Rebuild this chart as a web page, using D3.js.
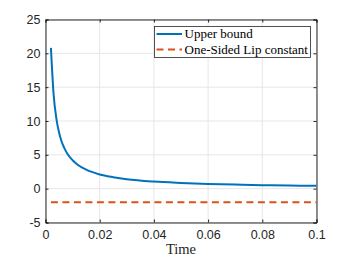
<!DOCTYPE html>
<html>
<head>
<meta charset="utf-8">
<script src="https://cdn.jsdelivr.net/npm/d3@7"></script>
<style>
  body { margin: 0; background: #fff; }
  .tick text { font-family: "Liberation Sans", Arial, sans-serif; font-size: 12.5px; fill: #262626; }
</style>
</head>
<body>
<svg width="350" height="263"></svg>
<script>
// values
const time = [0.002, 0.003, 0.004, 0.005, 0.006, 0.007, 0.008, 0.01, 0.012, 0.015, 0.02, 0.025, 0.03, 0.04, 0.05, 0.06, 0.07, 0.08, 0.09, 0.1];
const upperBound = [20.8, 13.9, 10.4, 8.3, 6.9, 5.95, 5.2, 4.2, 3.5, 2.8, 2.1, 1.7, 1.4, 1.05, 0.85, 0.7, 0.6, 0.52, 0.46, 0.42];
const lipTime = [0.002, 0.1];
const lipConst = [-2, -2];
const xTicks = [0, 0.02, 0.04, 0.06, 0.08, 0.1];
const yTicks = [-5, 0, 5, 10, 15, 20, 25];
const legendNames = ["Upper bound", "One-Sided Lip constant"];

const blue = "#0072BD", orange = "#D95319";

const svg = d3.select("svg");
const m = { left: 45.5, right: 316.5, top: 19.5, bottom: 222.5 };

const x = d3.scaleLinear().domain([0, 0.1]).range([m.left, m.right]);
const y = d3.scaleLinear().domain([-5, 25]).range([m.bottom, m.top]);

// grid
svg.append("g").selectAll("line").data(xTicks).join("line")
    .attr("x1", d => x(d)).attr("x2", d => x(d))
    .attr("y1", m.top).attr("y2", m.bottom)
    .attr("stroke", "#e6e6e6").attr("stroke-width", 1);
svg.append("g").selectAll("line").data(yTicks).join("line")
    .attr("y1", d => y(d)).attr("y2", d => y(d))
    .attr("x1", m.left).attr("x2", m.right)
    .attr("stroke", "#e6e6e6").attr("stroke-width", 1);

// axes, ticks inward
const fmt = d => d === 0 ? "0" : String(d);
const gX = svg.append("g").attr("transform", `translate(0,${m.bottom})`)
    .call(d3.axisBottom(x).tickValues(xTicks).tickFormat(fmt).tickSize(-3).tickPadding(8));
const gXt = svg.append("g").attr("transform", `translate(0,${m.top})`)
    .call(d3.axisTop(x).tickValues(xTicks).tickFormat("").tickSize(-3));
const gY = svg.append("g").attr("transform", `translate(${m.left},0)`)
    .call(d3.axisLeft(y).tickValues(yTicks).tickFormat(fmt).tickSize(-3).tickPadding(5));
const gYr = svg.append("g").attr("transform", `translate(${m.right},0)`)
    .call(d3.axisRight(y).tickValues(yTicks).tickFormat("").tickSize(-3));
[gX, gXt, gY, gYr].forEach(g => {
    g.select(".domain").attr("stroke", "#262626");
    g.selectAll(".tick line").attr("stroke", "#262626");
});

const line = d3.line().x(d => x(d[0])).y(d => y(d[1]));

svg.append("path")
    .datum(time.map((t, i) => [t, upperBound[i]]))
    .attr("d", line.curve(d3.curveMonotoneX))
    .attr("fill", "none").attr("stroke", blue).attr("stroke-width", 2);

svg.append("path")
    .datum(lipTime.map((t, i) => [t, lipConst[i]]))
    .attr("d", d3.line().x(d => x(d[0])).y(d => y(d[1])))
    .attr("fill", "none").attr("stroke", orange).attr("stroke-width", 2)
    .attr("stroke-dasharray", "7,4.5");

// x label
svg.append("text")
    .attr("x", (m.left + m.right) / 2).attr("y", 254)
    .attr("text-anchor", "middle")
    .style("font-family", "'Liberation Serif', 'Times New Roman', serif")
    .style("font-size", "14.5px").attr("fill", "#262626")
    .text("Time");

// legend
const lg = svg.append("g");
lg.append("rect")
    .attr("x", 154.5).attr("y", 26.5).attr("width", 156).attr("height", 31)
    .attr("fill", "#fff").attr("stroke", "#262626").attr("stroke-width", 0.8);
legendNames.forEach((name, i) => {
    const ly = 34 + i * 15.5;
    lg.append("line")
        .attr("x1", 156.5).attr("x2", 182).attr("y1", ly).attr("y2", ly)
        .attr("stroke", i === 0 ? blue : orange).attr("stroke-width", 2)
        .attr("stroke-dasharray", i === 0 ? null : "7,4.5");
    lg.append("text")
        .attr("x", 184.5).attr("y", ly + 4)
        .style("font-family", "'Liberation Serif', 'Times New Roman', serif")
        .style("font-size", "13px").attr("fill", "#000")
        .text(name);
});
</script>
</body>
</html>
